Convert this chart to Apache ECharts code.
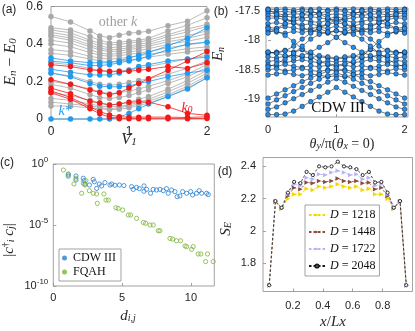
<!DOCTYPE html>
<html><head><meta charset="utf-8">
<script src="https://cdn.jsdelivr.net/npm/echarts@6/dist/echarts.min.js"></script>
<style>html,body{margin:0;padding:0;background:#fff}#c{width:415px;height:331px}</style>
</head><body><div id="c"></div>
<script>
// ---------- panel (a) ----------
const aX = [0, 0.25, 0.5, 0.625, 0.75, 0.875, 1, 1.125, 1.25, 1.5, 1.75, 2];
const aGrey = [
  [0.547,0.518,0.470,0.443,0.434,0.447,0.458,0.462,0.468,0.498,0.522,0.577],
  [0.487,0.475,0.440,0.420,0.405,0.410,0.415,0.420,0.430,0.470,0.500,0.540],
  [0.475,0.460,0.420,0.405,0.395,0.398,0.405,0.410,0.420,0.450,0.480,0.505],
  [0.462,0.445,0.410,0.390,0.380,0.385,0.390,0.398,0.408,0.440,0.465,0.495],
  [0.450,0.432,0.395,0.378,0.370,0.372,0.380,0.388,0.398,0.425,0.445,0.470],
  [0.440,0.420,0.385,0.368,0.360,0.362,0.370,0.378,0.388,0.412,0.430,0.455],
  [0.420,0.405,0.370,0.352,0.345,0.350,0.358,0.365,0.375,0.398,0.415,0.435],
  [0.400,0.385,0.355,0.340,0.335,0.338,0.345,0.352,0.360,0.380,0.395,0.410],
  [0.370,0.360,0.335,0.325,0.320,0.322,0.330,0.338,0.345,0.360,0.375,0.385],
  [0.350,0.340,0.320,0.310,0.305,0.308,0.315,0.322,0.330,0.345,0.358,0.370],
  [0.300,0.290,0.270,0.258,0.250,0.255,0.262,0.270,0.280,0.300,0.320,0.340],
  [0.245,0.230,0.200,0.185,0.180,0.185,0.195,0.205,0.215,0.240,0.270,0.310],
  [0.200,0.185,0.160,0.145,0.135,0.140,0.150,0.160,0.175,0.205,0.240,0.290],
  [0.185,0.165,0.130,0.115,0.110,0.115,0.125,0.140,0.155,0.190,0.225,0.275],
  [0.140,0.125,0.100,0.085,0.075,0.080,0.090,0.105,0.120,0.160,0.205,0.260],
  [0.110,0.100,0.080,0.070,0.065,0.068,0.075,0.090,0.105,0.145,0.190,0.245],
  [0.090,0.080,0.070,0.062,0.055,0.060,0.070,0.080,0.095,0.130,0.175,0.230],
  [0.070,0.068,0.060,0.055,0.050,0.052,0.060,0.072,0.085,0.120,0.165,0.220]
];
const aBlue = [
  [0,0,0,0,0,0.010,0.030,0.055,0.080,0.120,0.160,0.220],
  [0.326,0.310,0.300,0.300,0.300,0.310,0.325,0.340,0.355,0.390,0.430,0.487],
  [0.308,0.300,0.285,0.285,0.290,0.300,0.310,0.320,0.335,0.370,0.400,0.410],
  [0.265,0.250,0.235,0.235,0.235,0.245,0.260,0.280,0.290,0.310,0.320,0.330],
  [0.246,0.225,0.190,0.175,0.172,0.172,0.175,0.190,0.200,0.225,0.245,0.260]
];
const aRed = [
  [0.290,0.280,0.262,0.258,0.255,0.255,0.255,0.260,0.265,0.280,0.270,0.300],
  [0.210,0.185,0.155,0.142,0.130,0.140,0.165,0.190,0.215,0.260,0.310,0.360],
  [0.165,0.135,0.095,0.085,0.075,0.080,0.090,0.092,0.090,0.065,0.030,0.020],
  [0.150,0.115,0.065,0.040,0.022,0.012,0.010,0.010,0.010,0.010,0.008,0.012],
  [0.140,0.105,0.055,0.028,0.010,0.002,0.002,0.002,0.002,0.002,0.002,0.003]
];
const aYTicks = [0, 0.2, 0.4, 0.6];
const aXTicks = [0, 1, 2];

// ---------- panel (b) ----------
const bX = [0,0.125,0.25,0.375,0.5,0.625,0.75,0.875,1,1.125,1.25,1.375,1.5,1.625,1.75,1.875,2];
const bLevels = [
  [-17.47,-17.48,-17.47,-17.49,-17.47,-17.48,-17.47,-17.49,-17.47,-17.49,-17.47,-17.48,-17.47,-17.49,-17.47,-17.48,-17.47],
  [-17.50,-17.52,-17.51,-17.53,-17.50,-17.52,-17.54,-17.51,-17.50,-17.51,-17.54,-17.52,-17.50,-17.53,-17.51,-17.52,-17.50],
  [-17.54,-17.55,-17.57,-17.55,-17.56,-17.58,-17.55,-17.57,-17.55,-17.57,-17.55,-17.58,-17.56,-17.55,-17.57,-17.55,-17.54],
  [-17.58,-17.60,-17.59,-17.61,-17.63,-17.60,-17.62,-17.64,-17.60,-17.64,-17.62,-17.60,-17.63,-17.61,-17.59,-17.60,-17.58],
  [-17.63,-17.62,-17.65,-17.67,-17.65,-17.68,-17.70,-17.66,-17.64,-17.66,-17.70,-17.68,-17.65,-17.67,-17.65,-17.62,-17.63],
  [-17.72,-17.70,-17.73,-17.71,-17.74,-17.72,-17.76,-17.73,-17.70,-17.73,-17.76,-17.72,-17.74,-17.71,-17.73,-17.70,-17.72],
  [-17.78,-17.80,-17.77,-17.79,-17.82,-17.80,-17.78,-17.80,-17.76,-17.80,-17.78,-17.80,-17.82,-17.79,-17.77,-17.80,-17.78],
  [-17.84,-17.86,-17.88,-17.85,-17.87,-17.84,-17.86,-17.88,-17.84,-17.88,-17.86,-17.84,-17.87,-17.85,-17.88,-17.86,-17.84],
  [-17.48,-17.56,-17.63,-17.70,-17.78,-17.85,-17.80,-17.72,-17.65,-17.72,-17.80,-17.85,-17.78,-17.70,-17.63,-17.56,-17.48],
  [-17.88,-17.80,-17.72,-17.64,-17.57,-17.50,-17.56,-17.62,-17.70,-17.62,-17.56,-17.50,-17.57,-17.64,-17.72,-17.80,-17.88],
  [-18.22,-18.20,-18.17,-18.20,-18.16,-18.22,-18.28,-18.30,-18.32,-18.30,-18.28,-18.22,-18.16,-18.20,-18.17,-18.20,-18.22],
  [-18.28,-18.30,-18.27,-18.25,-18.28,-18.30,-18.26,-18.28,-18.30,-18.28,-18.26,-18.30,-18.28,-18.25,-18.27,-18.30,-18.28],
  [-18.36,-18.34,-18.38,-18.35,-18.33,-18.36,-18.38,-18.35,-18.37,-18.35,-18.38,-18.36,-18.33,-18.35,-18.38,-18.34,-18.36],
  [-18.42,-18.44,-18.41,-18.44,-18.46,-18.43,-18.45,-18.42,-18.44,-18.42,-18.45,-18.43,-18.46,-18.44,-18.41,-18.44,-18.42],
  [-18.50,-18.48,-18.52,-18.50,-18.48,-18.51,-18.53,-18.50,-18.52,-18.50,-18.53,-18.51,-18.48,-18.50,-18.52,-18.48,-18.50],
  [-18.59,-18.57,-18.55,-18.58,-18.60,-18.57,-18.59,-18.62,-18.60,-18.62,-18.59,-18.57,-18.60,-18.58,-18.55,-18.57,-18.59],
  [-17.80,-17.84,-17.92,-18.02,-18.15,-18.28,-18.36,-18.40,-18.42,-18.40,-18.36,-18.28,-18.15,-18.02,-17.92,-17.84,-17.80],
  [-18.45,-18.40,-18.32,-18.22,-18.10,-17.98,-17.90,-17.86,-17.84,-17.86,-17.90,-17.98,-18.10,-18.22,-18.32,-18.40,-18.45],
  [-18.20,-18.22,-18.18,-18.10,-17.98,-17.88,-17.80,-17.86,-17.95,-18.04,-18.12,-18.20,-18.26,-18.30,-18.26,-18.22,-18.20],
  [-18.20,-18.22,-18.26,-18.30,-18.26,-18.20,-18.12,-18.04,-17.95,-17.86,-17.80,-17.88,-17.98,-18.10,-18.18,-18.22,-18.20],
  [-18.98,-18.91,-18.84,-18.77,-18.70,-18.64,-18.58,-18.52,-18.47,-18.52,-18.58,-18.64,-18.70,-18.77,-18.84,-18.91,-18.98],
  [-19.08,-19.01,-18.94,-18.87,-18.80,-18.73,-18.66,-18.60,-18.55,-18.60,-18.66,-18.73,-18.80,-18.87,-18.94,-19.01,-19.08],
  [-19.17,-19.13,-19.06,-18.99,-18.92,-18.85,-18.78,-18.71,-18.65,-18.71,-18.78,-18.85,-18.92,-18.99,-19.06,-19.13,-19.17],
  [-19.26,-19.26,-19.25,-19.20,-19.12,-19.04,-18.96,-18.88,-18.80,-18.88,-18.96,-19.04,-19.12,-19.20,-19.25,-19.26,-19.26]
];
const bYTicks = [-19, -18.5, -18, -17.5];
const bXTicks = [0, 1, 2];

// ---------- panel (c) ----------
const cCdwD = [1.09,1.09,1.65,1.65,2.18,2.23,2.30,2.62,2.90,2.98,3.15,3.34,3.51,3.75,4.12,4.24,4.48,4.80,5.13,5.69,5.81,6.05,6.25,6.59,6.59,6.78,7.07,7.26,7.50,7.75,7.99,8.23,8.35,8.60,8.84,9.00,9.20,9.40,9.69,9.98,10.12,10.41,10.60,10.78,11.14,11.26];
const cCdwV = [1.5e-1,1.0e-1,1.05e-1,4.9e-2,6.8e-2,4.3e-2,2.3e-2,1.9e-2,5.5e-2,3.5e-2,1.0e-2,2.3e-2,1.6e-2,3.0e-2,1.9e-2,2.3e-2,1.8e-2,1.9e-2,1.7e-2,1.4e-2,8.3e-3,1.2e-2,9.5e-3,1.6e-2,5.8e-3,8.3e-3,4.0e-3,8.3e-3,7.4e-3,8.3e-3,6.5e-3,9.5e-3,4.0e-3,7.4e-3,5.4e-3,2.1e-3,2.4e-3,5.4e-3,4.0e-3,5.4e-3,2.9e-3,4.0e-3,6.5e-3,4.0e-3,4.0e-3,3.1e-3];
const cFqahD = [0.73,1.09,1.65,1.50,2.06,2.18,2.30,2.37,2.62,2.90,3.15,3.20,3.68,3.83,4.00,4.55,4.72,5.04,5.45,5.62,6.05,6.54,6.71,7.03,7.26,7.63,7.75,8.48,8.67,8.96,9.25,9.57,9.69,10.05,10.17,10.53,10.72,11.07,11.21,11.62];
const cFqahV = [3.2e-1,1.26e-1,6.8e-2,2.3e-2,4.0e-3,2.6e-2,1.9e-2,4.3e-2,6.5e-3,4.0e-3,3.5e-3,6.0e-4,3.5e-3,1.1e-3,1.1e-3,2.6e-4,2.3e-4,1.7e-4,6.6e-5,6.6e-5,3.5e-5,1.6e-5,1.4e-5,1.0e-5,1.0e-5,3.4e-6,3.4e-6,7.9e-7,7.1e-7,5.1e-7,5.1e-7,1.9e-7,1.7e-7,1.0e-7,1.7e-7,4.2e-8,4.2e-8,1.0e-8,4.2e-8,1.0e-8];
const cYTicks = [1e-10, 1e-5, 1];
const cXTicks = [0, 5, 10];

// ---------- panel (d) ----------
const dX = [0.0417,0.0833,0.125,0.1667,0.2083,0.25,0.2917,0.3333,0.375,0.4167,0.4583,0.5,0.5417,0.5833,0.625,0.6667,0.7083,0.75,0.7917,0.8333,0.875,0.9167,0.9583];
const dD1218 = [1.664,2.180,2.138,2.200,2.227,2.227,2.262,2.254,2.275,2.268,2.275,2.289,2.275,2.268,2.275,2.254,2.262,2.227,2.227,2.200,2.138,2.180,1.664];
const dD1448 = [1.664,2.182,2.140,2.216,2.268,2.258,2.300,2.296,2.310,2.304,2.310,2.325,2.310,2.304,2.310,2.296,2.300,2.258,2.268,2.216,2.140,2.182,1.664];
const dD1722 = [1.664,2.184,2.142,2.227,2.289,2.280,2.330,2.320,2.352,2.346,2.362,2.373,2.362,2.346,2.352,2.320,2.330,2.280,2.289,2.227,2.142,2.184,1.664];
const dD2048 = [1.664,2.185,2.144,2.237,2.304,2.296,2.366,2.346,2.400,2.394,2.400,2.429,2.400,2.394,2.383,2.346,2.366,2.300,2.304,2.237,2.144,2.185,1.664];
const dNames = ['1218','1448','1722','2048'];
const dYTicks = [1.8, 2, 2.2, 2.4];
const dXTicks = [0.2, 0.4, 0.6, 0.8];

// ---------- styling ----------
const SANS = "'Liberation Sans','DejaVu Sans',Arial,sans-serif";
const SERIF = "'Liberation Serif','DejaVu Serif','Times New Roman',serif";
const AX = '#8c8c8c';
const TXT = '#262626';
const GREY = '#a9a9a9', BLUE = '#1f9bef', RED = '#f01a1a';
const BFILL = '#2a8de6';
const CBLUE = '#2a80d0', CGREEN = '#7bb536';
const dColors = ['#f2d600', '#8c4a3a', '#b5b5f3', '#1a1a1a'];

function grid(l,t,w,h){ return {left:l, top:t, width:w, height:h, show:true, borderColor:AX, borderWidth:0.8, backgroundColor:'transparent', containLabel:false}; }
function axis(type, gi, min, max, ticks, fmt, extra){
  const o = {type:type, gridIndex:gi, min:min, max:max,
    axisLine:{show:false}, splitLine:{show:false},
    axisTick:{show:true, inside:true, length:3, customValues:ticks, lineStyle:{color:AX, width:0.8}},
    axisLabel:{show:true, customValues:ticks, color:TXT, fontFamily:SANS, fontSize:11, margin:6, formatter:fmt}};
  return Object.assign(o, extra||{});
}
const f1 = v => String(+(+v).toFixed(2));

const series = [];
function addLines(gi, xs, levels, color, opt){
  levels.forEach(lv => {
    series.push(Object.assign({type:'line', xAxisIndex:gi, yAxisIndex:gi, silent:true, animation:false,
      data: xs.map((x,i)=>[x, lv[i]]), symbol:'circle', symbolSize:5.5, clip:false,
      lineStyle:{color:color, width:0.8}, itemStyle:{color:color}}, opt||{}));
  });
}
addLines(0, aX, aGrey, GREY);
addLines(0, aX, aBlue, BLUE);
addLines(0, aX, aRed, RED);
addLines(1, bX, bLevels, '#111', {symbolSize:4.6, lineStyle:{color:'#111', width:0.55}, itemStyle:{color:BFILL, borderColor:'#0b1a33', borderWidth:0.5}});

series.push({type:'scatter', name:'CDW III', xAxisIndex:2, yAxisIndex:2, silent:true, animation:false,
  data: cCdwD.map((d,i)=>[d, cCdwV[i]]), symbol:'circle', symbolSize:4.2,
  itemStyle:{color:'rgba(255,255,255,0)', borderColor:CBLUE, borderWidth:1}});
series.push({type:'scatter', name:'FQAH', xAxisIndex:2, yAxisIndex:2, silent:true, animation:false,
  data: cFqahD.map((d,i)=>[d, cFqahV[i]]), symbol:'circle', symbolSize:4.2,
  itemStyle:{color:'rgba(255,255,255,0)', borderColor:CGREEN, borderWidth:1}});

[dD1218, dD1448, dD1722, dD2048].forEach((arr, k) => {
  series.push({type:'line', name:dNames[k], xAxisIndex:3, yAxisIndex:3, silent:true, animation:false,
    data: dX.map((x,i)=>[x, arr[i]]), symbol: k===3 ? 'circle' : 'triangle', symbolRotate: k===3 ? 0 : -90,
    symbolSize: k===3 ? 3.2 : 4.5, clip:false,
    lineStyle:{color:dColors[k], width:0.8, type:[2.5,2]},
    itemStyle: k===3 ? {color:'#fff', borderColor:dColors[k], borderWidth:0.9} : {color:dColors[k]}});
});

function txt(x, y, text, opts){
  return Object.assign({type:'text', x:x, y:y, silent:true, z:100,
    style:Object.assign({text:text, align:'center', verticalAlign:'middle', fill:TXT, font:'12px ' + SANS}, opts && opts.style || {})},
    opts && opts.extra || {});
}
const it = (size, color) => ({fontFamily:SERIF, fontStyle:'italic', fontSize:size, fill:color||TXT, color:color||TXT});
const sub = (size, color) => ({fontFamily:SERIF, fontStyle:'italic', fontSize:size, fill:color||TXT, color:color||TXT, verticalAlign:'bottom', lineHeight:size});
const up = (size, color) => ({fontFamily:SERIF, fontSize:size, fill:color||TXT, color:color||TXT});

const graphics = [
  txt(9, 10, '(a)', {style:{font:'12px '+SANS}}),
  txt(221, 12, '(b)', {style:{font:'12px '+SANS}}),
  txt(7, 163, '(c)', {style:{font:'12px '+SANS}}),
  txt(225, 172, '(d)', {style:{font:'12px '+SANS}}),
  // (a) titles
  txt(0, 0, '{i|E}{s|n}{u| − }{i|E}{s|0}', {style:{rich:{i:it(16), s:sub(11), u:up(16)}}, extra:{x:11, y:62, rotation:Math.PI/2}}),
  txt(129, 140, '{i|V}{s|1}', {style:{rich:{i:it(16), s:sub(11)}}}),
  txt(118, 22, '{u|other }{i|k}', {style:{rich:{u:up(14,'#a0a0a0'), i:it(14,'#a0a0a0')}}}),
  txt(65, 111, 'k*', {style:{font:'italic 14px '+SERIF, fill:BLUE}}),
  txt(187, 108, '{i|k}{s|0}', {style:{rich:{i:it(14,RED), s:sub(10,RED)}}}),
  // (b) titles
  txt(0, 0, '{i|E}{s|n}', {style:{rich:{i:it(15), s:sub(10)}}, extra:{x:218.5, y:54, rotation:Math.PI/2}}),
  txt(342, 144, '{i|θ}{s|y}{u|/π(}{i|θ}{s|x}{u| = 0)}', {style:{rich:{i:it(14), s:sub(10), u:up(14)}}}),
  txt(338, 108, 'CDW III', {style:{font:'15px '+SERIF, fill:'#111'}}),
  // (c) titles
  txt(0, 0, '{u||}{i|c}{p|†}{s|i}{u| }{i|c}{s|j}{u||}', {style:{rich:{i:it(15), s:sub(10), u:up(15), p:Object.assign(up(10),{verticalAlign:'top', lineHeight:10})}}, extra:{x:9, y:240, rotation:Math.PI/2}}),
  txt(128, 316, '{i|d}{s|i,j}', {style:{rich:{i:it(15), s:sub(10)}}}),
  // (d) titles
  txt(0, 0, '{i|S}{s|E}', {style:{rich:{i:it(15), s:sub(10)}}, extra:{x:226, y:229, rotation:Math.PI/2}}),
  txt(333, 322, '{i|x}{u|/}{i|Lx}', {style:{rich:{i:it(15), u:up(15)}}})
];

const option = {
  backgroundColor:'#fff',
  animation:false,
  grid:[grid(51,6.5,156,112.5), grid(266,7.8,142,109.2), grid(53.3,164,161,122), grid(263,157.5,149.5,134)],
  xAxis:[
    axis('value',0,0,2,aXTicks,f1,{axisLabel:{customValues:aXTicks,color:TXT,fontFamily:SANS,fontSize:12,margin:7,formatter:f1}}),
    axis('value',1,-0.03,2.05,bXTicks,f1,{axisLabel:{customValues:bXTicks,color:TXT,fontFamily:SANS,fontSize:11,margin:7,formatter:f1}}),
    axis('value',2,0,11.7,cXTicks,f1),
    axis('value',3,0,1,dXTicks,f1,{axisLabel:{customValues:dXTicks,color:TXT,fontFamily:SANS,fontSize:11,margin:9,formatter:f1}})
  ],
  yAxis:[
    axis('value',0,0,0.6,aYTicks,f1,{axisLabel:{customValues:aYTicks,color:TXT,fontFamily:SANS,fontSize:12,margin:8,formatter:f1}}),
    axis('value',1,-19.3,-17.45,bYTicks,f1),
    axis('log',2,1e-10,1,cYTicks,v => '10{p|' + Math.round(Math.log10(v)) + '}',
      {logBase:10, axisLabel:{customValues:cYTicks, color:TXT, fontFamily:SANS, fontSize:11, margin:5, lineHeight:16,
        formatter: v => '10{p|' + Math.round(Math.log10(v)) + '}',
        rich:{p:{fontFamily:SANS, fontSize:8, color:TXT, verticalAlign:'top', lineHeight:8}}}}),
    axis('value',3,1.625,2.455,dYTicks,f1,{axisLabel:{customValues:dYTicks,color:TXT,fontFamily:SANS,fontSize:11,margin:7,formatter:f1}})
  ],
  legend:[
    {left:59, top:249, orient:'vertical', itemGap:2, itemWidth:7, itemHeight:5, padding:[3,5,3,3],
     backgroundColor:'#fff', borderColor:AX, borderWidth:0.8, selectedMode:false,
     textStyle:{fontFamily:SERIF, fontSize:12, color:'#111'},
     data:[{name:'CDW III', icon:'circle', itemStyle:{color:CBLUE, borderWidth:0}},
           {name:'FQAH', icon:'circle', itemStyle:{color:CGREEN, borderWidth:0}}]},
    {left:305, top:205, orient:'vertical', itemGap:5, itemWidth:16, itemHeight:4, padding:[4,4,4,3],
     backgroundColor:'#fff', borderColor:AX, borderWidth:0.8, selectedMode:false,
     textStyle:{fontFamily:SERIF, fontSize:12, color:'#111', rich:{i:{fontFamily:SERIF, fontStyle:'italic', fontSize:12, color:'#111'}}},
     formatter: n => '{i|D} = ' + n,
     data: dNames}
  ],
  graphic: graphics,
  series: series
};
const chart = echarts.init(document.getElementById('c'), null, {renderer:'canvas'});
chart.setOption(option);
</script></body></html>
